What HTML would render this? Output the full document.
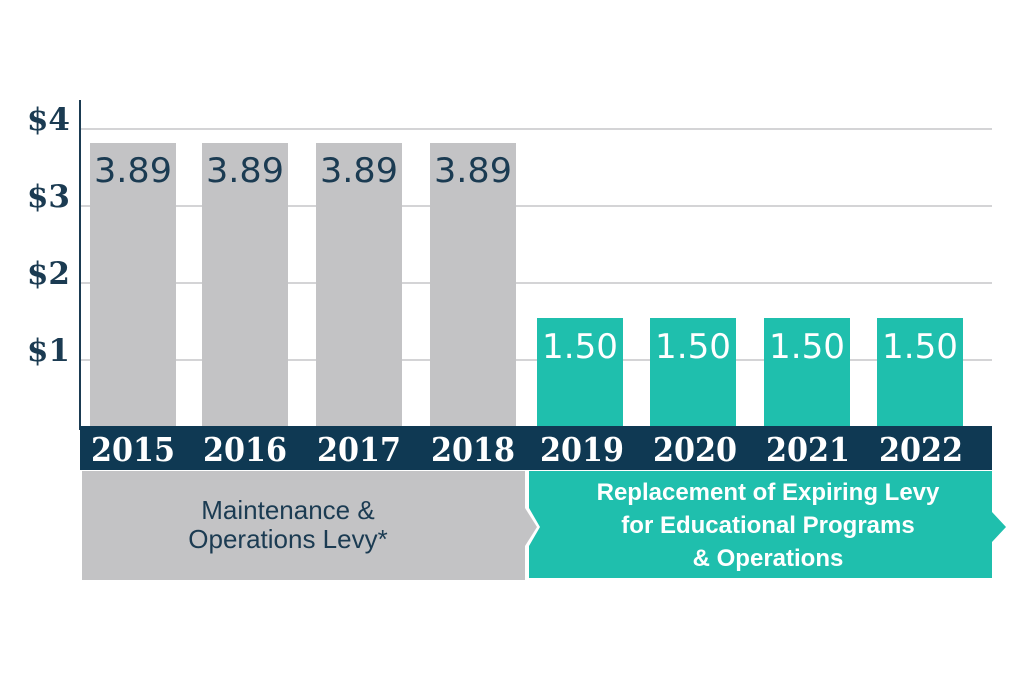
<!DOCTYPE html>
<html><head><style>
body{margin:0;width:1024px;height:682px;background:#fff;overflow:hidden}
</style></head><body>
<svg width="1024" height="682" xmlns="http://www.w3.org/2000/svg">
<g stroke="#d4d4d6" stroke-width="2">
<line x1="80" y1="129" x2="992" y2="129"/>
<line x1="80" y1="206" x2="992" y2="206"/>
<line x1="80" y1="283" x2="992" y2="283"/>
<line x1="80" y1="360" x2="992" y2="360"/>
</g>
<line x1="80" y1="100" x2="80" y2="430" stroke="#1b3b52" stroke-width="2"/>
<g font-family="'DejaVu Serif','Liberation Serif',serif" font-size="31" font-weight="bold" fill="#1b3b52" text-anchor="end">
<text x="70" y="130">$4</text><text x="70" y="207">$3</text><text x="70" y="284">$2</text><text x="70" y="361">$1</text>
</g>
<g fill="#c3c3c5">
<rect x="90" y="143" width="86" height="285"/><rect x="202" y="143" width="86" height="285"/>
<rect x="316" y="143" width="86" height="285"/><rect x="430" y="143" width="86" height="285"/>
</g>
<g fill="#1fbfad">
<rect x="537" y="318" width="86" height="110"/><rect x="650" y="318" width="86" height="110"/>
<rect x="764" y="318" width="86" height="110"/><rect x="877" y="318" width="86" height="110"/>
</g>
<g font-family="'DejaVu Sans','Liberation Sans',sans-serif" font-size="34" text-anchor="middle" lengthAdjust="spacingAndGlyphs">
<g fill="#1b3b52"><text x="133" y="182" textLength="78" lengthAdjust="spacingAndGlyphs">3.89</text><text x="245" y="182" textLength="78" lengthAdjust="spacingAndGlyphs">3.89</text><text x="359" y="182" textLength="78" lengthAdjust="spacingAndGlyphs">3.89</text><text x="473" y="182" textLength="78" lengthAdjust="spacingAndGlyphs">3.89</text></g>
<g fill="#fff"><text x="580" y="358" textLength="76" lengthAdjust="spacingAndGlyphs">1.50</text><text x="693" y="358" textLength="76" lengthAdjust="spacingAndGlyphs">1.50</text><text x="807" y="358" textLength="76" lengthAdjust="spacingAndGlyphs">1.50</text><text x="920" y="358" textLength="76" lengthAdjust="spacingAndGlyphs">1.50</text></g>
</g>
<rect x="80" y="426" width="912" height="44" fill="#0f3953"/>
<g font-family="'DejaVu Serif','Liberation Serif',serif" font-size="33" font-weight="bold" fill="#fff" text-anchor="middle">
<text x="133" y="461" textLength="84" lengthAdjust="spacingAndGlyphs">2015</text><text x="245" y="461" textLength="84" lengthAdjust="spacingAndGlyphs">2016</text><text x="359" y="461" textLength="84" lengthAdjust="spacingAndGlyphs">2017</text><text x="473" y="461" textLength="84" lengthAdjust="spacingAndGlyphs">2018</text>
<text x="582" y="461" textLength="84" lengthAdjust="spacingAndGlyphs">2019</text><text x="695" y="461" textLength="84" lengthAdjust="spacingAndGlyphs">2020</text><text x="808" y="461" textLength="84" lengthAdjust="spacingAndGlyphs">2021</text><text x="921" y="461" textLength="84" lengthAdjust="spacingAndGlyphs">2022</text>
</g>
<polygon points="82,471 525,471 525,508 537,527 525,546 525,580 82,580" fill="#c3c3c5"/>
<polygon points="529,471 992,471 992,512 1006,527 992,542 992,578 529,578 529,546 540,527 529,508" fill="#1fbfad"/>
<g font-family="'Liberation Sans',sans-serif" font-size="26" fill="#1b3b52" text-anchor="middle">
<text x="288" y="519">Maintenance &amp;</text><text x="288" y="548">Operations Levy*</text>
</g>
<g font-family="'Liberation Sans',sans-serif" font-size="24" font-weight="bold" fill="#fff" text-anchor="middle">
<text x="768" y="500">Replacement of Expiring Levy</text>
<text x="768" y="533">for Educational Programs</text>
<text x="768" y="566">&amp; Operations</text>
</g>
</svg>
</body></html>
